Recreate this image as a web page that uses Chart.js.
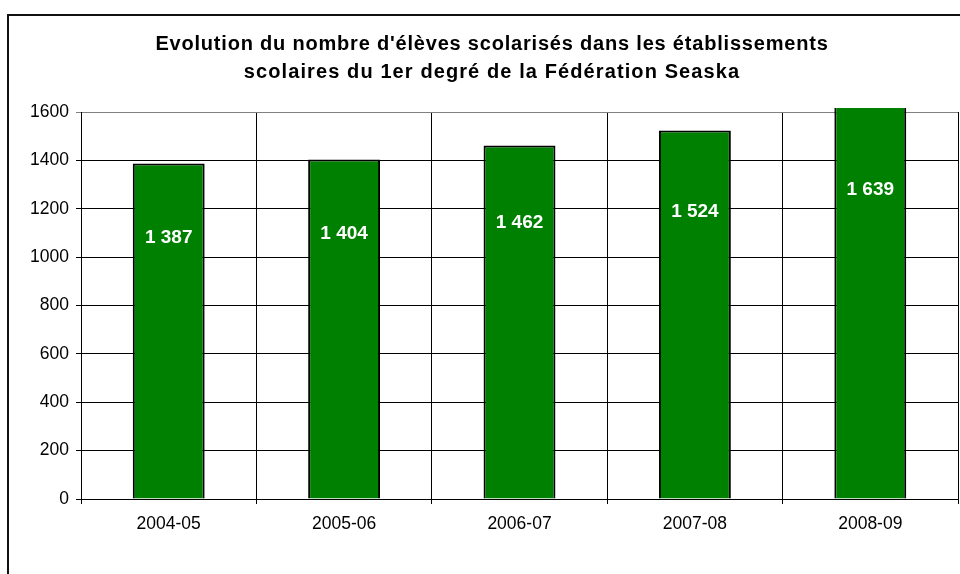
<!DOCTYPE html>
<html><head><meta charset="utf-8">
<script src="https://cdn.jsdelivr.net/npm/chart.js@4/dist/chart.umd.min.js"></script>
<style>
html,body{margin:0;padding:0;background:#fff;width:960px;height:574px;overflow:hidden;}
#frame{position:absolute;left:7px;top:14px;width:1000px;height:600px;border-left:2px solid #111;border-top:2px solid #111;}
#c{position:absolute;left:0;top:0;}
</style></head>
<body>
<div id="frame"></div>
<canvas id="c" width="960" height="574"></canvas>
<script>
const titleLines = ["Evolution du nombre d'élèves scolarisés dans les établissements", "scolaires du 1er degré de la Fédération Seaska"];
const categories = ["2004-05", "2005-06", "2006-07", "2007-08", "2008-09"];
const pupils = [1387, 1404, 1462, 1524, 1639];
const yTicks = [0, 200, 400, 600, 800, 1000, 1200, 1400, 1600];

const FONT = '"Liberation Sans", Arial, sans-serif';
function fmt(v){ return String(v).replace(/\B(?=(\d{3})+(?!\d))/g, ' '); }

const titlePlugin = {
  id: 'spacedTitle',
  afterDraw(chart){
    const ctx = chart.ctx;
    ctx.save();
    ctx.fillStyle = '#000';
    ctx.font = 'bold 20px ' + FONT;
    ctx.textAlign = 'center';
    ctx.textBaseline = 'middle';
    const spacing = ['0.8px', '1.1px'];
    titleLines.forEach((t, i) => {
      if ('letterSpacing' in ctx) ctx.letterSpacing = spacing[i];
      ctx.fillText(t, 492, 44 + i * 28);
    });
    ctx.restore();
  }
};

const labelPlugin = {
  id: 'valueLabels',
  afterDatasetsDraw(chart){
    const ctx = chart.ctx;
    const meta = chart.getDatasetMeta(0);
    const y = chart.scales.y;
    ctx.save();
    ctx.fillStyle = '#ffffff';
    ctx.font = 'bold 19px ' + FONT;
    ctx.textAlign = 'center';
    ctx.textBaseline = 'middle';
    meta.data.forEach((bar, i) => {
      const v = pupils[i];
      ctx.fillText(fmt(v), bar.x, y.getPixelForValue(v * 0.78));
    });
    ctx.restore();
  }
};

new Chart(document.getElementById('c'), {
  type: 'bar',
  data: {
    labels: categories,
    datasets: [{
      data: pupils,
      backgroundColor: '#008000',
      borderColor: '#000000',
      borderWidth: 2,
      borderSkipped: 'start',
      barPercentage: 0.41,
      categoryPercentage: 1,
      clip: {left: 0, right: 0, top: 4, bottom: 0}
    }]
  },
  options: {
    responsive: false,
    animation: false,
    devicePixelRatio: 1,
    layout: {padding: {left: 0, right: 2, top: 112, bottom: 0}},
    plugins: {
      legend: {display: false},
      tooltip: {enabled: false},
      title: {display: false}
    },
    scales: {
      x: {
        offset: true,
        grid: {
          offset: true,
          display: true,
          color: (c) => (c.index === categories.length ? '#808080' : '#000000'),
          lineWidth: 1,
          tickLength: 5,
          drawTicks: true
        },
        border: {display: true, color: '#000', width: 1},
        ticks: {color: '#000', font: {family: FONT, size: 17.5}, padding: 10},
        afterFit: (s) => { s.height = 75; }
      },
      y: {
        min: 0, max: 1600,
        afterBuildTicks: (s) => { s.ticks = yTicks.map(v => ({value: v})); },
        grid: {
          color: (c) => (c.tick && c.tick.value === 1600 ? '#808080' : '#000000'),
          lineWidth: 1,
          tickLength: 5
        },
        border: {display: true, color: '#000', width: 1},
        ticks: {color: '#000', font: {family: FONT, size: 17.5}, padding: 7, callback: (v) => String(v)},
        afterFit: (s) => { s.width = 81; }
      }
    }
  },
  plugins: [labelPlugin, titlePlugin]
});
</script>
</body></html>
